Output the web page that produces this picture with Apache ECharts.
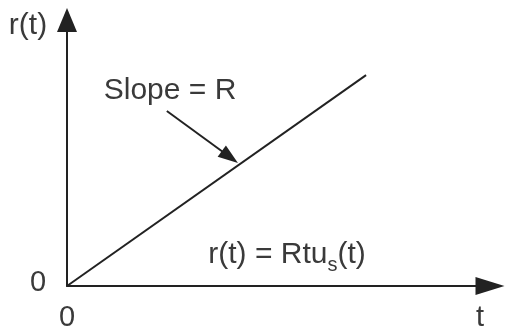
<!DOCTYPE html>
<html>
<head>
<meta charset="utf-8">
<script src="https://cdn.jsdelivr.net/npm/echarts@6/dist/echarts.min.js"></script>
<style>html,body{margin:0;padding:0;background:#fff;}#c{width:505px;height:336px;}</style>
</head>
<body>
<div id="c"></div>
<script>
// Ramp r(t) = R t u_s(t): line from origin
const rampX = [0, 7.07];
const rampY = [0, 7.93];
// "Slope = R" pointer arrow (start, end)
const pointerX = [2.36, 3.85];
const pointerY = [6.58, 4.85];
// axis extents
const axisMax = [10, 10];
const labels = { yName: 'r(t)', xName: 't', origin: '0', slope: 'Slope = R' };

const FONT = '"Liberation Sans", Arial, sans-serif';
const TXT = '#3a3a3a';
const INK = '#222';

const chart = echarts.init(document.getElementById('c'), null, { renderer: 'canvas' });
chart.setOption({
  animation: false,
  grid: { left: 67, right: 15, top: 20, bottom: 50 },
  xAxis: {
    type: 'value', min: 0, max: axisMax[0],
    splitLine: { show: false }, axisTick: { show: false }, axisLabel: { show: false },
    axisLine: { lineStyle: { color: INK, width: 2 }, symbol: ['none', 'triangle'], symbolSize: [18, 29] }
  },
  yAxis: {
    type: 'value', min: 0, max: axisMax[1],
    splitLine: { show: false }, axisTick: { show: false }, axisLabel: { show: false },
    axisLine: { lineStyle: { color: INK, width: 2 }, symbol: ['none', 'triangle'], symbolSize: [20, 24] }
  },
  series: [{
    type: 'line',
    data: rampX.map((x, i) => [x, rampY[i]]),
    symbol: 'none',
    lineStyle: { color: INK, width: 2 },
    silent: true,
    markLine: {
      silent: true,
      symbol: ['none', 'triangle'],
      symbolSize: [14, 20],
      label: { show: false },
      lineStyle: { color: INK, width: 2, type: 'solid' },
      data: [[{ coord: [pointerX[0], pointerY[0]] }, { coord: [pointerX[1], pointerY[1]] }]]
    }
  }],
  graphic: [
    { type: 'text', x: 28, y: 26, style: { text: labels.yName, font: '30px ' + FONT, fill: TXT, align: 'center', verticalAlign: 'middle' } },
    { type: 'text', x: 38, y: 283, style: { text: labels.origin, font: '29px ' + FONT, fill: TXT, align: 'center', verticalAlign: 'middle' } },
    { type: 'text', x: 67, y: 318, style: { text: labels.origin, font: '29px ' + FONT, fill: TXT, align: 'center', verticalAlign: 'middle' } },
    { type: 'text', x: 480, y: 318, style: { text: labels.xName, font: '29px ' + FONT, fill: TXT, align: 'center', verticalAlign: 'middle' } },
    { type: 'text', x: 170, y: 91, style: { text: labels.slope, font: '30px ' + FONT, fill: TXT, align: 'center', verticalAlign: 'middle' } },
    { type: 'text', x: 287, y: 255, style: {
        text: 'r(t) = Rtu{s|s}(t)', fill: TXT, align: 'center', verticalAlign: 'middle',
        fontSize: 30, fontFamily: FONT,
        rich: { s: { fontSize: 20, fontFamily: FONT, fill: TXT, padding: [20, 0, 0, 0] } }
    } }
  ]
});
</script>
</body>
</html>
